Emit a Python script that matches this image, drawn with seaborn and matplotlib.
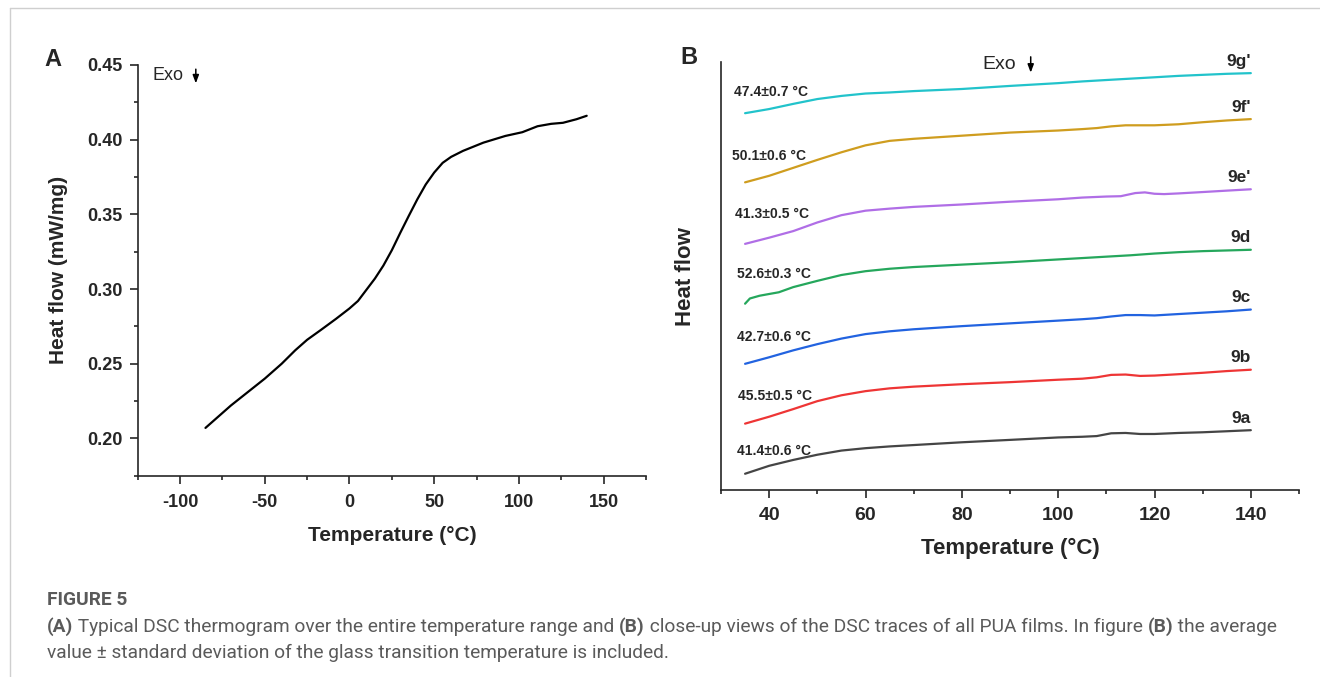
import numpy as np
import pandas as pd
import matplotlib
matplotlib.use("Agg")
import matplotlib.pyplot as plt
import seaborn as sns
from matplotlib.ticker import MultipleLocator
from matplotlib import font_manager

# ---------------- data ----------------
# Panel A: full-range DSC thermogram
temp_a = [-85, -70, -50, -40, -32, -25, -17, -8, 0, 5, 10, 15, 20, 25, 30, 35,
          40, 45, 50, 55, 60, 67, 79, 92, 102, 111, 119, 126, 134, 140]
heat_a = [0.207, 0.222, 0.240, 0.250, 0.259, 0.266, 0.2725, 0.280, 0.287, 0.292,
          0.2995, 0.307, 0.3157, 0.326, 0.3377, 0.349, 0.360, 0.370, 0.378, 0.3845,
          0.3885, 0.3925, 0.398, 0.4025, 0.405, 0.409, 0.4106, 0.4113, 0.4137, 0.416]

# Panel B: close-up traces (arbitrary heat-flow units, offset)
temp_b = [35, 40, 45, 50, 55, 60, 65, 70, 80, 90, 100, 105, 108, 111, 114, 117,
          120, 125, 130, 135, 140]
trace_9a = [3.80, 5.66, 7.03, 8.25, 9.22, 9.78, 10.19, 10.51, 11.16, 11.72, 12.29,
            12.45, 12.61, 13.26, 13.34, 13.10, 13.10, 13.34, 13.50, 13.74, 13.99]
trace_9b = [15.52, 17.14, 18.92, 20.78, 22.15, 23.12, 23.77, 24.17, 24.74, 25.22,
            25.79, 26.03, 26.35, 26.92, 27.00, 26.68, 26.76, 27.08, 27.41, 27.81, 28.13]
trace_9c = [29.51, 31.04, 32.66, 34.11, 35.41, 36.46, 37.11, 37.59, 38.32, 38.97,
            39.61, 39.94, 40.18, 40.58, 40.91, 40.91, 40.82, 41.15, 41.47, 41.79, 42.20]
temp_9d = [35, 36, 38, 40, 42, 45, 50, 55, 60, 65, 70, 80, 90, 100, 105, 110, 115,
           120, 125, 130, 135, 140]
trace_9d = [43.57, 44.79, 45.43, 45.84, 46.24, 47.45, 48.91, 50.28, 51.17, 51.74,
            52.14, 52.71, 53.27, 53.92, 54.24, 54.57, 54.89, 55.30, 55.62, 55.86,
            56.02, 56.18]
temp_9e = [35, 40, 45, 50, 55, 60, 65, 70, 80, 90, 100, 105, 110, 113, 116, 118,
           120, 122, 125, 130, 135, 140]
trace_9e = [57.56, 59.01, 60.55, 62.57, 64.27, 65.32, 65.80, 66.21, 66.77, 67.42,
            67.99, 68.39, 68.63, 68.71, 69.44, 69.60, 69.28, 69.20, 69.36, 69.68,
            70.01, 70.33]
trace_9f = [71.95, 73.48, 75.34, 77.20, 78.98, 80.60, 81.65, 82.13, 82.86, 83.59,
            84.07, 84.40, 84.64, 85.04, 85.29, 85.29, 85.29, 85.53, 86.01, 86.42, 86.74]
temp_9g = [35, 40, 45, 50, 55, 60, 65, 70, 80, 90, 100, 105, 110, 115, 120, 125,
           130, 135, 140]
trace_9g = [88.12, 89.09, 90.30, 91.43, 92.16, 92.72, 92.97, 93.29, 93.78, 94.50,
            95.15, 95.55, 95.88, 96.20, 96.52, 96.85, 97.09, 97.33, 97.49]

sample_names = ["9a", "9b", "9c", "9d", "9e'", "9f'", "9g'"]
tg_labels = ["41.4±0.6 °C", "45.5±0.5 °C", "42.7±0.6 °C", "52.6±0.3 °C",
             "41.3±0.5 °C", "50.1±0.6 °C", "47.4±0.7 °C"]
colors = ["#454545", "#ee3535", "#2263e0", "#25a75c", "#b06ee6", "#cf9d1f", "#22c3cb"]

caption_title = "FIGURE 5"
caption_line1 = [("(A)", "bold"), (" Typical DSC thermogram over the entire temperature range and ", "normal"),
                 ("(B)", "bold"), (" close-up views of the DSC traces of all PUA films. In figure ", "normal"),
                 ("(B)", "bold"), (" the average", "normal")]
caption_line2 = [("value ± standard deviation of the glass transition temperature is included.", "normal")]

# ---------------- styling ----------------
sns.set_theme(style="ticks")
plt.rcParams["font.family"] = ["Liberation Sans", "DejaVu Sans"]
plt.rcParams["axes.linewidth"] = 1.2
plt.rcParams["axes.unicode_minus"] = False

avail = {f.name for f in font_manager.fontManager.ttflist}
cap_family = "Roboto" if "Roboto" in avail else "Open Sans"

W, H = 1320, 677
fig = plt.figure(figsize=(W / 100, H / 100), dpi=100)

# frame lines of the page
fig.add_artist(plt.Line2D([10 / W, 10 / W], [0, 1 - 8 / H], color="#cfcfcf", lw=1))
fig.add_artist(plt.Line2D([10 / W, 1], [1 - 8 / H, 1 - 8 / H], color="#cfcfcf", lw=1))

arrow_props = dict(arrowstyle="-|>,head_length=0.4,head_width=0.15", color="black",
                   lw=1.1, shrinkA=0, shrinkB=0)

# ---------------- panel A ----------------
axA = fig.add_axes([137.7 / W, 1 - 475.7 / H, (646 - 137.7) / W, (475.7 - 65) / H])
sns.lineplot(x=temp_a, y=heat_a, ax=axA, color="black", lw=1.6, sort=False)
axA.set_xlim(-125, 175)
axA.set_ylim(0.175, 0.45)
axA.xaxis.set_major_locator(MultipleLocator(50))
axA.xaxis.set_minor_locator(MultipleLocator(25))
axA.yaxis.set_major_locator(MultipleLocator(0.05))
axA.yaxis.set_minor_locator(MultipleLocator(0.025))
axA.yaxis.set_major_formatter(matplotlib.ticker.FormatStrFormatter("%.2f"))
sns.despine(ax=axA)
axA.tick_params(which="major", direction="out", length=6, width=1.2, labelsize=13, pad=5)
axA.tick_params(axis="x", which="major", pad=7)
axA.tick_params(which="minor", direction="out", length=3, width=1.2)
for lab in axA.get_xticklabels() + axA.get_yticklabels():
    lab.set_fontweight("bold")
axA.set_xlabel("Temperature (°C)", fontsize=15, fontweight="bold", labelpad=11)
axA.set_ylabel("Heat flow (mW/mg)", fontsize=15, fontweight="bold", labelpad=14)
axA.text(-116, 0.4433, "Exo", fontsize=13, va="center", ha="left")
axA.annotate("", xy=(-90.7, 0.4377), xytext=(-90.7, 0.4472), arrowprops=arrow_props)
fig.text(53 / W, 1 - 60 / H, "A", fontsize=17, fontweight="bold", ha="center", va="center")

# ---------------- panel B ----------------
axB = fig.add_axes([721 / W, 1 - 490 / H, (1299 - 721) / W, (490 - 62.4) / H])
x_lists = [temp_b, temp_b, temp_b, temp_9d, temp_9e, temp_b, temp_9g]
y_lists = [trace_9a, trace_9b, trace_9c, trace_9d, trace_9e, trace_9f, trace_9g]
frames = []
for name, xs, ys in zip(sample_names, x_lists, y_lists):
    frames.append(pd.DataFrame({"Temperature": xs, "Heat flow": ys, "sample": name}))
df_b = pd.concat(frames, ignore_index=True)
sns.lineplot(data=df_b, x="Temperature", y="Heat flow", hue="sample", hue_order=sample_names,
             palette=dict(zip(sample_names, colors)), ax=axB, lw=1.6, legend=False, sort=False)
axB.set_xlim(30, 150)
axB.set_ylim(0, 100)
axB.xaxis.set_major_locator(MultipleLocator(20))
axB.xaxis.set_minor_locator(MultipleLocator(10))
axB.set_yticks([])
sns.despine(ax=axB)
axB.tick_params(which="major", direction="out", length=6, width=1.2, labelsize=14, pad=6)
axB.tick_params(which="minor", direction="out", length=3, width=1.2)
for lab in axB.get_xticklabels():
    lab.set_fontweight("bold")
axB.set_xlabel("Temperature (°C)", fontsize=16, fontweight="bold", labelpad=10)
axB.set_ylabel("Heat flow", fontsize=16, fontweight="bold", labelpad=18)

for name, ys in zip(sample_names, y_lists):
    axB.text(140, ys[-1] + 1.0, name, fontsize=12.5, fontweight="bold", ha="right", va="bottom")
tg_pos_x = [33.4, 33.6, 33.4, 33.4, 32.9, 32.3, 32.75]
tg_pos_y = [9.2, 22.0, 35.7, 50.4, 64.6, 78.2, 93.1]
for tx, ty, tg in zip(tg_pos_x, tg_pos_y, tg_labels):
    axB.text(tx, ty, tg, fontsize=10, fontweight="bold", ha="left", va="center")

axB.text(84.3, 99.6, "Exo", fontsize=14, va="center", ha="left", clip_on=False)
axB.annotate("", xy=(94.3, 97.6), xytext=(94.3, 101.3), annotation_clip=False,
             arrowprops=arrow_props)
fig.text(689 / W, 1 - 58 / H, "B", fontsize=17, fontweight="bold", ha="center", va="center")

# ---------------- caption ----------------
renderer = fig.canvas.get_renderer()
cap_color = "#5a5a5a"


def seg_width(s, w, size):
    t = fig.text(0, 0, s + "|", fontsize=size, fontweight=w, family=cap_family)
    t2 = fig.text(0, 0, "|", fontsize=size, fontweight=w, family=cap_family)
    wd = t.get_window_extent(renderer).width - t2.get_window_extent(renderer).width
    t.remove()
    t2.remove()
    return wd


base = 10.0
total = sum(seg_width(s, w, base) for s, w in caption_line1)
cap_size = base * (1278 - 47) / total


def draw_line(segs, y_px):
    x = 47.0
    for s, w in segs:
        fig.text(x / W, 1 - y_px / H, s, fontsize=cap_size, fontweight=w, family=cap_family,
                 color=cap_color, ha="left", va="center")
        x += seg_width(s, w, cap_size)


fig.text(47 / W, 1 - 600 / H, caption_title, fontsize=cap_size, fontweight="bold",
         family=cap_family, color=cap_color, ha="left", va="center")
draw_line(caption_line1, 627)
draw_line(caption_line2, 653)

fig.savefig("out.png", dpi=100)
